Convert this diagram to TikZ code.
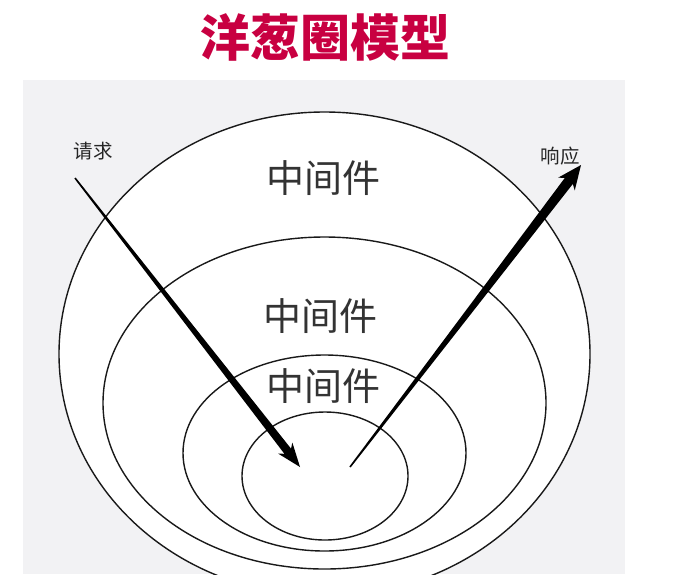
\documentclass[tikz,border=0pt]{standalone}
\usepackage{fontspec}
\newfontfamily\cjk{Noto Sans CJK SC}
\usetikzlibrary{calc}

\definecolor{titlered}{RGB}{200,0,65}
\definecolor{panelgray}{RGB}{242,242,244}

\tikzset{
  layer/.style={draw=black!90, line width=1.4pt, fill=white},
  mwlabel/.style={font=\cjk\fontsize{38}{40}\selectfont, text=black!80},
  sidelabel/.style={font=\cjk\fontsize{19.5}{21}\selectfont, text=black!85},
}

% tapered arrow: start, tip, half width at head, half width of head
\newcommand{\taperarrow}[4]{%
  \coordinate (base) at ($(#2)!20pt!(#1)$);
  \coordinate (wing) at ($(#2)!24pt!(#1)$);
  \fill ($(#1)!0.8pt!90:(#2)$) -- ($(base)!#3!-90:(#1)$)
    -- ($(wing)!#4!-90:(#1)$) -- (#2) -- ($(wing)!#4!90:(#1)$)
    -- ($(base)!#3!90:(#1)$) -- ($(#1)!0.8pt!-90:(#2)$) -- cycle;
}

\begin{document}
\begin{tikzpicture}[x=1pt, y=-1pt]
\useasboundingbox (0,0) rectangle (684,574);
\clip (0,0) rectangle (684,574);

% panel
\fill[panelgray] (23,80) rectangle (625,574);

% title
\node[font=\cjk\bfseries\fontsize{50}{52}\selectfont, text=titlered] (title) at (325,37) {洋葱圈模型};

% onion layers
\draw[layer] (324.5,354) ellipse [x radius=265.5, y radius=242];
\draw[layer] (324.5,403) ellipse [x radius=221.5, y radius=166];
\draw[layer] (324.5,453) ellipse [x radius=141.5, y radius=98];
\draw[layer] (325,476) ellipse [x radius=83, y radius=64];

% labels
\node[mwlabel] (mwouter) at (323,178) {中间件};
\node[mwlabel] (mwmiddle) at (320,316) {中间件};
\node[mwlabel] (mwinner) at (323,386) {中间件};
\node[sidelabel] (request) at (93,151) {请求};
\node[sidelabel] (response) at (560,156) {响应};

% arrows
\coordinate (reqstart) at (75,178);
\coordinate (reqtip) at (300,467);
\coordinate (resstart) at (350,467);
\coordinate (restip) at (581,165);
\taperarrow{reqstart}{reqtip}{4.2pt}{9pt}
\taperarrow{resstart}{restip}{5pt}{10.5pt}
\end{tikzpicture}
\end{document}
